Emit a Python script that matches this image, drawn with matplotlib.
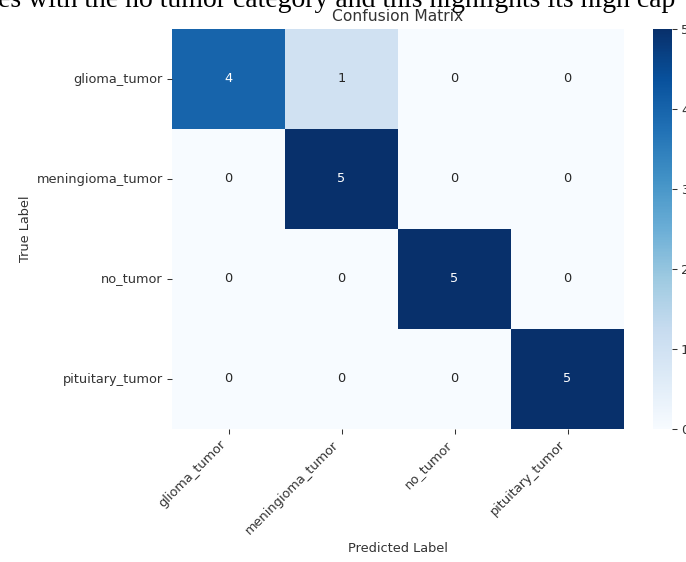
import numpy as np
import matplotlib
matplotlib.use("Agg")
import matplotlib.pyplot as plt
import seaborn as sns

# Class labels and confusion-matrix rows (true label per row, predicted per column)
class_names = ["glioma_tumor", "meningioma_tumor", "no_tumor", "pituitary_tumor"]
row_glioma = [4, 1, 0, 0]
row_meningioma = [0, 5, 0, 0]
row_no_tumor = [0, 0, 5, 0]
row_pituitary = [0, 0, 0, 5]
cbar_ticks = [0, 1, 2, 3, 4, 5]

caption_line = "es with the no tumor category and this highlights its high cap"

DPI = 93
W, H = 686, 562
fig = plt.figure(figsize=(W / DPI, H / DPI), dpi=DPI)

ax = fig.add_axes([172 / W, (H - 429) / H, 452 / W, 400 / H])
cax = fig.add_axes([653 / W, (H - 429) / H, 19 / W, 400 / H])

matrix = np.array([row_glioma, row_meningioma, row_no_tumor, row_pituitary])

sns.heatmap(matrix, annot=True, fmt="d", cmap="Blues",
            xticklabels=class_names, yticklabels=class_names,
            ax=ax, cbar_ax=cax, vmin=0, vmax=5)

cax.set_yticks(cbar_ticks)
cax.tick_params(labelsize=10, colors="#333333")

ax.set_title("Confusion Matrix", color="#333333")
ax.set_xlabel("Predicted Label", color="#333333")
ax.set_ylabel("True Label", color="#333333")
plt.setp(ax.get_xticklabels(), rotation=45, ha="right", color="#333333")
plt.setp(ax.get_yticklabels(), rotation=0, color="#333333")
ax.tick_params(colors="#333333")

# Surrounding document line, partly cut off by the top edge
fig.text(-2 / W, 1 - 7 / H, caption_line, fontfamily="Liberation Serif",
         fontsize=21.5, ha="left", va="baseline", color="black")

fig.savefig("out.png", dpi=DPI)
